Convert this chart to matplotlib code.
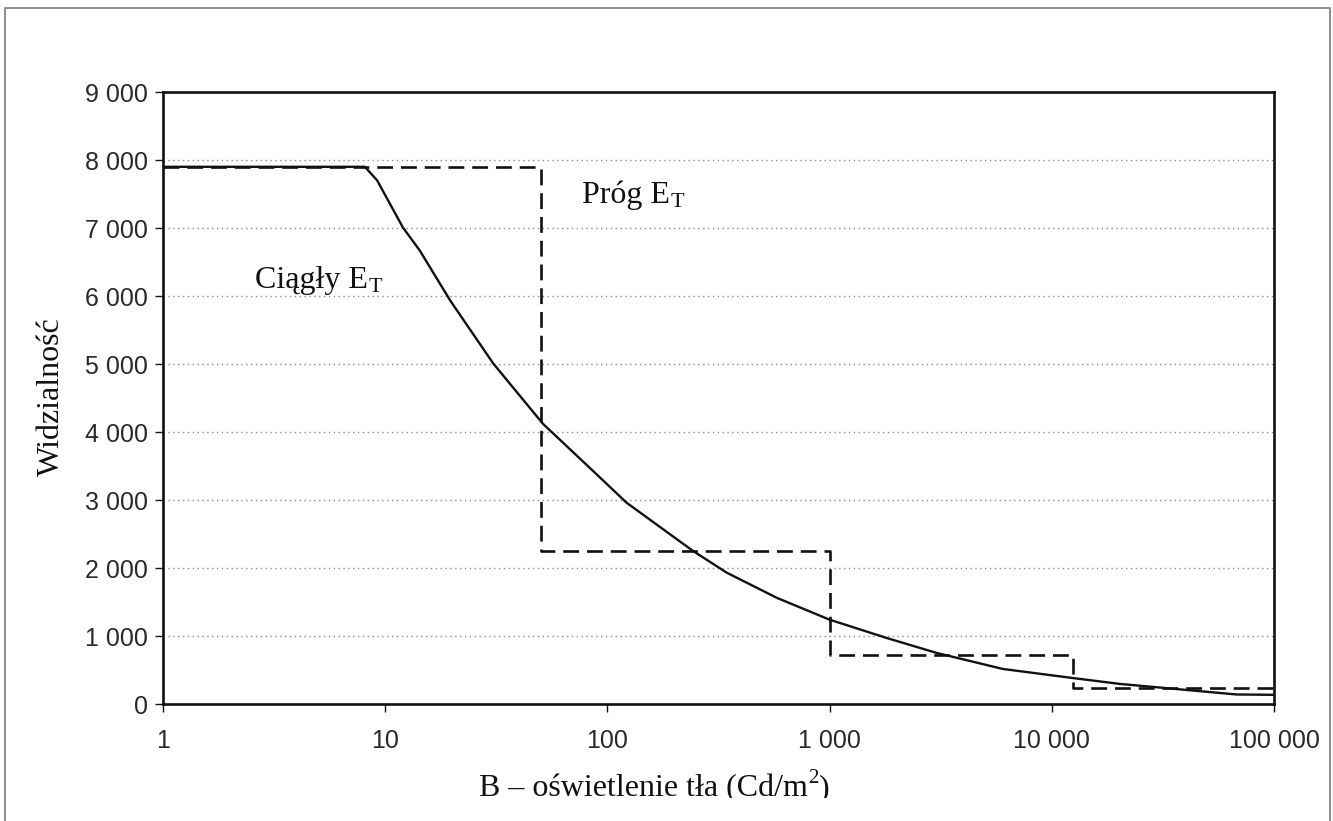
import matplotlib
matplotlib.use("Agg")
import matplotlib.pyplot as plt
from matplotlib.lines import Line2D
from matplotlib.transforms import Bbox
from matplotlib.ticker import FixedLocator, FuncFormatter, NullLocator

plt.rcParams['font.family'] = ['Liberation Sans', 'DejaVu Sans']

# Continuous E_T curve (background luminance B in cd/m2 -> visibility)
b_cont = [1, 8.1, 9.2, 12.0, 14.3, 19.6, 30.6, 51.3, 86, 122, 243, 345, 580,
          1000, 1811, 3040, 6030, 12350, 20300, 40600, 67800, 100000]
e_cont = [7900, 7900, 7700, 7010, 6670, 5935, 5010, 4120, 3430, 2960, 2250,
          1930, 1560, 1240, 970, 750, 515, 383, 295, 206, 140, 135]

# Threshold (step) E_T
b_step = [1, 50, 1000, 12500, 100000]
e_step = [7900, 2250, 720, 235, 235]

x_ticks = [1, 10, 100, 1000, 10000, 100000]
y_ticks = [0, 1000, 2000, 3000, 4000, 5000, 6000, 7000, 8000, 9000]

W, H = 1333, 821
fig = plt.figure(figsize=(W / 100, H / 100), dpi=100)
fig.patch.set_facecolor('white')

ax = fig.add_axes([163 / W, 1 - 704 / H, (1274 - 163) / W, (704 - 92) / H])
ax.set_xscale('log')
ax.set_xlim(1, 100000)
ax.set_ylim(0, 9000)


def fmt(v, pos=None):
    return f"{int(round(v)):,}".replace(",", " ")


ax.xaxis.set_major_locator(FixedLocator(x_ticks))
ax.xaxis.set_minor_locator(NullLocator())
ax.xaxis.set_major_formatter(FuncFormatter(fmt))
ax.yaxis.set_major_locator(FixedLocator(y_ticks))
ax.yaxis.set_major_formatter(FuncFormatter(fmt))

for y in y_ticks[1:-1]:
    ax.axhline(y, color='#8a8a8a', lw=1.0, linestyle=(0, (1, 2.5)), zorder=1)

ax.plot(b_cont, e_cont, color='#111111', lw=1.7, zorder=3,
        solid_joinstyle='round', solid_capstyle='round')
ax.step(b_step, e_step, where='post', color='#111111', lw=1.9,
        linestyle=(0, (6, 3)), zorder=3)

for s in ax.spines.values():
    s.set_linewidth(1.9)
    s.set_color('#111111')

ax.tick_params(axis='y', direction='out', length=6, width=1.0,
               labelsize=18, pad=5, colors='#111111', labelcolor='#2a2a2a')
ax.tick_params(axis='x', direction='out', length=6, width=1.0,
               labelsize=18, pad=12, colors='#111111', labelcolor='#2a2a2a')

SERIF = ['Liberation Serif', 'DejaVu Serif']
renderer = fig.canvas.get_renderer()


def ftext(xpx, ypx, s, size=23, **kw):
    return fig.text(xpx / W, 1 - ypx / H, s, family=SERIF, fontsize=size,
                    color='#111111', **kw)


def after(t, ypx, s, size, dx=0.5, clip=None):
    bb = t.get_window_extent(renderer)
    n = fig.text((bb.x1 + dx) / W, 1 - ypx / H, s, family=SERIF,
                 fontsize=size, color='#111111', ha='left', va='baseline')
    if clip is not None:
        n.set_clip_box(clip)
        n.set_clip_on(True)
    return n


# annotations inside the plot
t1 = ftext(255, 288, 'Ciągły E', ha='left', va='baseline')
after(t1, 292, 'T', 16)
t2 = ftext(582, 203, 'Próg E', ha='left', va='baseline')
after(t2, 207, 'T', 16)

# axis titles
ftext(51, 397, 'Widzialność', rotation=90, ha='center', va='center')

clip = Bbox.from_extents(0, H - 798, W, H)
xl = ftext(479, 796, 'B – oświetlenie tła (Cd/m', ha='left', va='baseline')
xl.set_clip_box(clip)
xl.set_clip_on(True)
sup = after(xl, 783, '2', 15, clip=clip)
after(sup, 796, ')', 23, dx=0.5, clip=clip)

# outer frame of the figure (scan border)
frame_x = [5 / W, 5 / W, 1330 / W, 1330 / W]
frame_y = [0, 1 - 8 / H, 1 - 8 / H, 0]
fig.add_artist(Line2D(frame_x, frame_y, transform=fig.transFigure,
                      color='#8c8c8c', lw=1.4))

fig.savefig('out.png', dpi=100, facecolor='white')
